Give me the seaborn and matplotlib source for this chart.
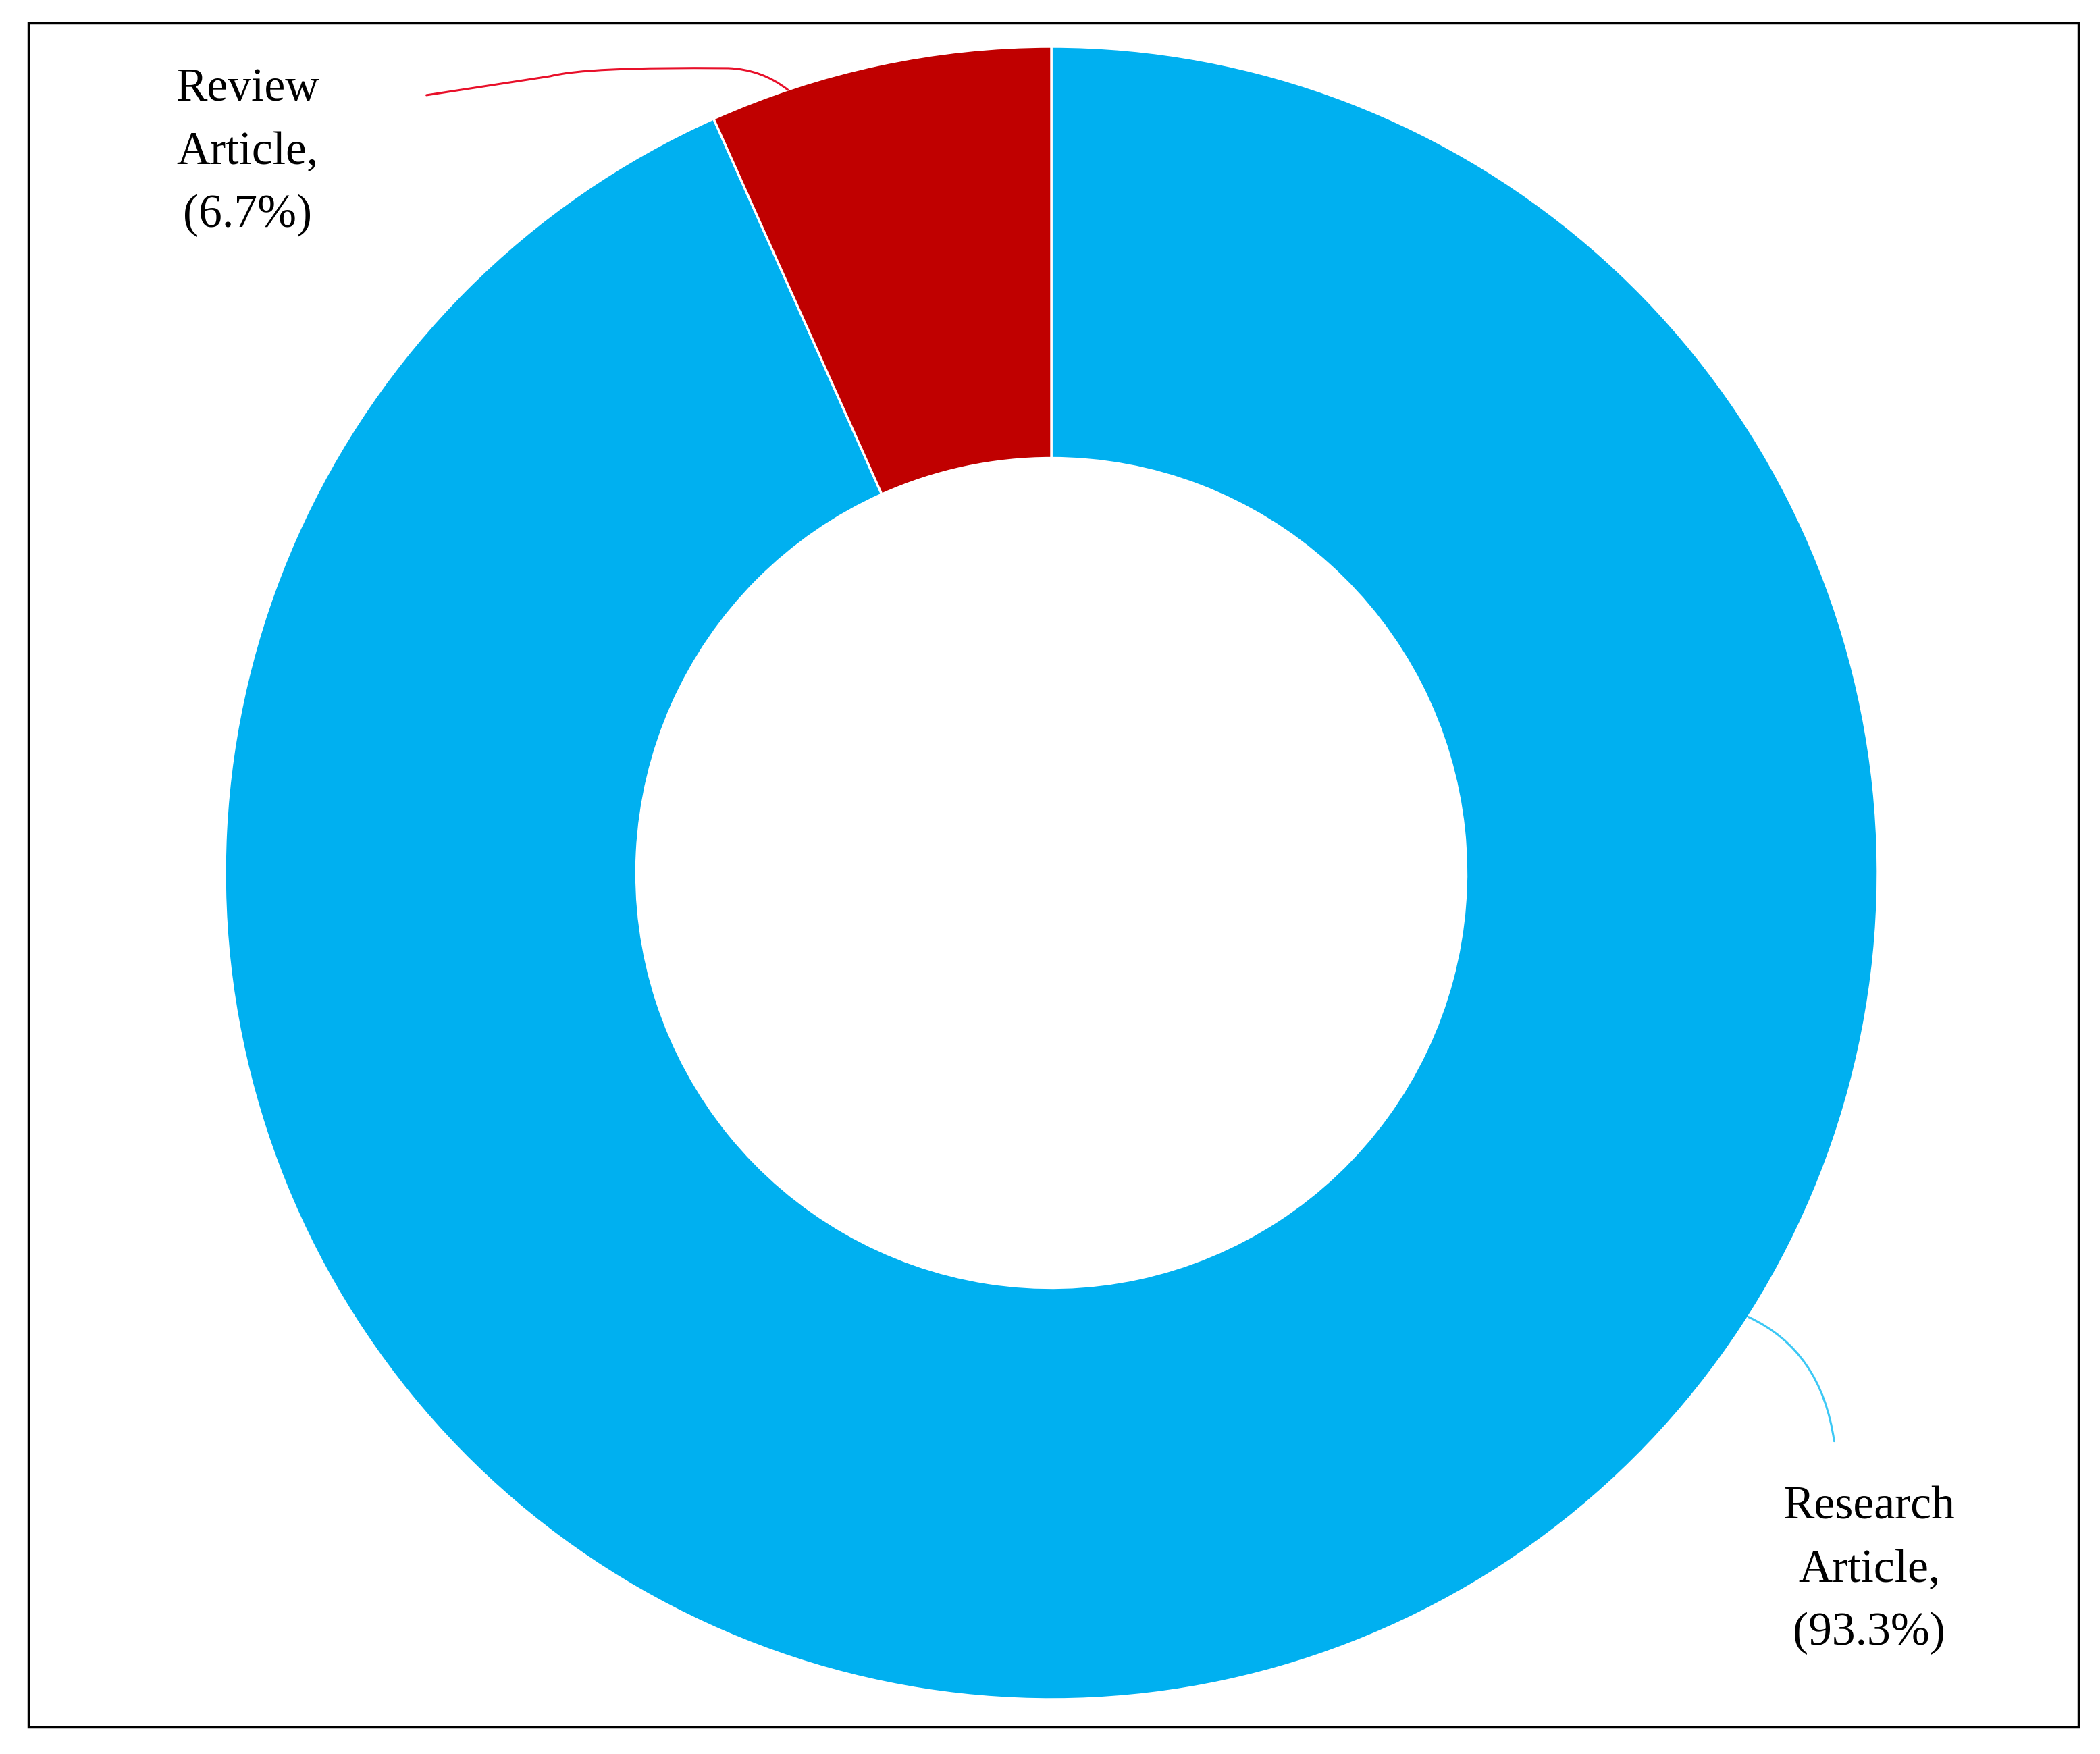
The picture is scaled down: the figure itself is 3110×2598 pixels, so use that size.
import numpy as np
import matplotlib
matplotlib.use("Agg")
import matplotlib.pyplot as plt
import seaborn as sns
from matplotlib.patches import Rectangle, PathPatch
from matplotlib.path import Path

sns.set_theme(style="white")
plt.rcParams['font.family'] = ['Liberation Serif', 'DejaVu Serif']

# ---------------- data ----------------
categories = ["Research Article", "Review Article"]
shares = [93.3, 6.7]
colors = ["#00B0F0", "#C00000"]

# ---------------- figure ----------------
W, H = 3110, 2598
fig = plt.figure(figsize=(W / 100, H / 100), dpi=100)
ax = fig.add_axes([0, 0, 1, 1])

cx, cy, R = 1557, H - 1293, 1224
wedges, _ = ax.pie(shares, colors=colors, startangle=90, counterclock=False,
                   radius=R, center=(cx, cy), frame=True,
                   wedgeprops=dict(width=R * 0.498, edgecolor="white", linewidth=2.5))
ax.set_xlim(0, W)
ax.set_ylim(0, H)
ax.set_aspect("equal")
ax.axis("off")

# frame around the chart
fig.patches.append(Rectangle((42, H - 2558), 3036, 2524, transform=None,
                             fill=False, edgecolor="black", linewidth=2.5))


def on_rim(angle_deg, r=R):
    a = np.deg2rad(angle_deg)
    return cx + r * np.cos(a), cy + r * np.sin(a)


def leader(x0, y0, offsets, codes, color):
    # offsets are relative to the anchor point on the ring (pixels, y up)
    verts = [(x0 + dx, y0 + dy) for dx, dy in offsets]
    ax.add_patch(PathPatch(Path(verts, codes), fill=False, edgecolor=color,
                           lw=2.2, capstyle="round", joinstyle="round"))


# leader line for Review Article (red), drawn from the label to the ring
ax0, ay0 = on_rim(108.6)
leader(ax0, ay0,
       [(-535, -8), (-352, 20), (-300, 34), (-88, 32), (-38, 30), (0, 0)],
       [Path.MOVETO, Path.LINETO, Path.CURVE3, Path.LINETO, Path.CURVE3, Path.CURVE3],
       "#E8102A")

# leader line for Research Article (blue)
bx0, by0 = on_rim(-32.5)
leader(bx0, by0,
       [(0, 0), (108, -50), (127, -184)],
       [Path.MOVETO, Path.CURVE3, Path.CURVE3],
       "#3CC8F5")

# labels
lbl = dict(ha="center", va="center", fontsize=50, color="black", linespacing=1.62)
ax.text(367, H - 226, "Review\nArticle,\n({:.1f}%)".format(shares[1]), **lbl)
ax.text(2768, H - 2326, "Research\nArticle,\n({:.1f}%)".format(shares[0]), **lbl)

fig.savefig("out.png", dpi=100, facecolor="white")
